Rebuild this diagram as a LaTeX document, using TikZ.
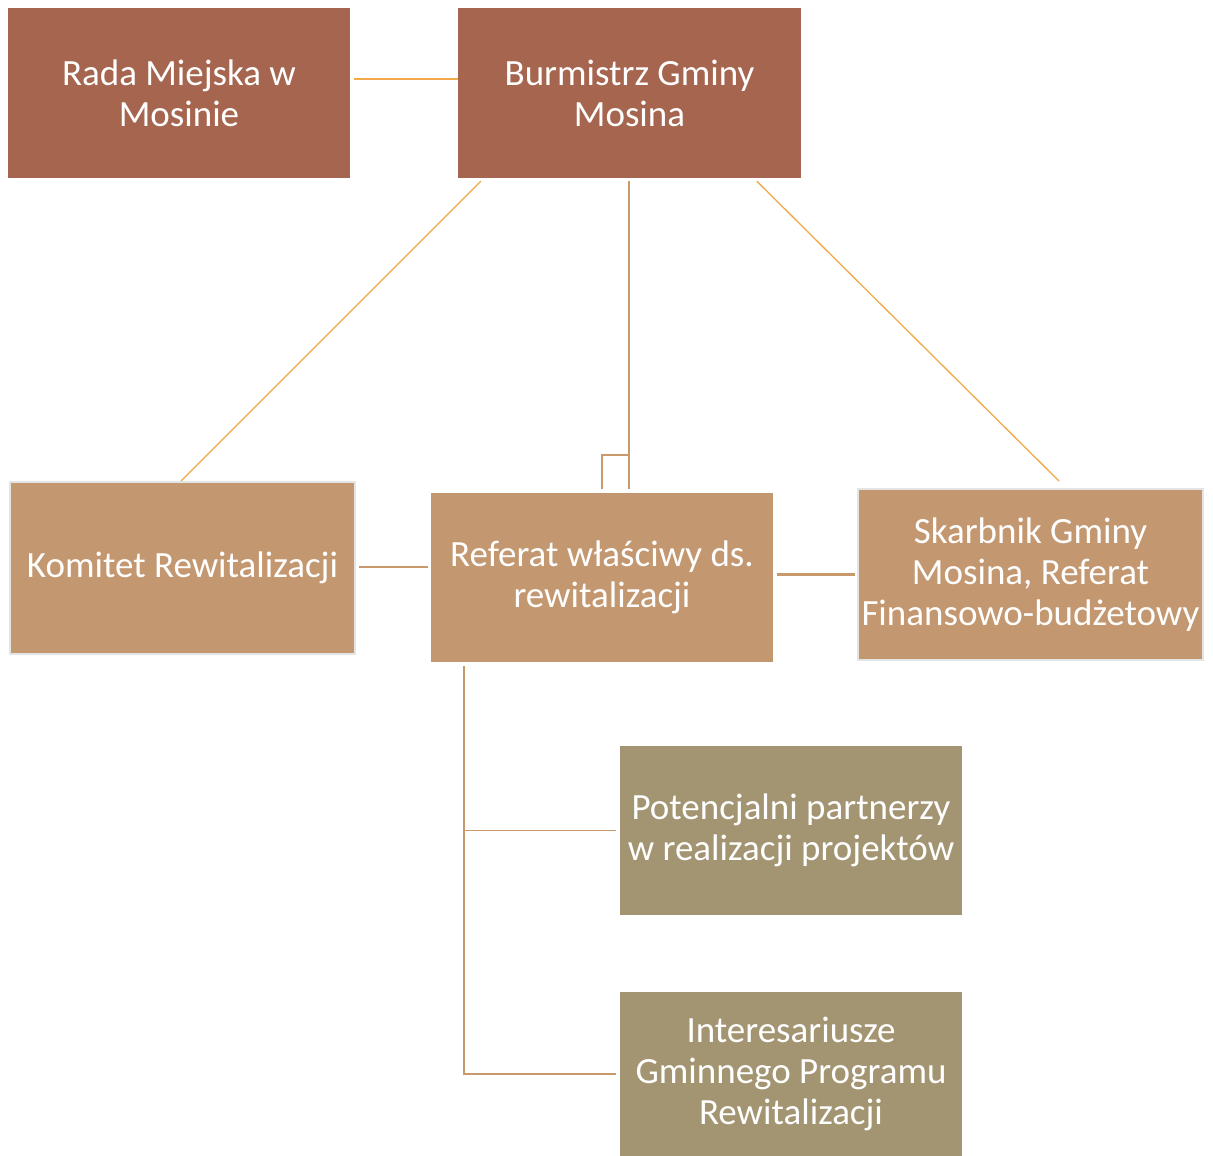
\documentclass[tikz,border=0pt]{standalone}
\usepackage{fontspec}
\setmainfont{Carlito}
\usetikzlibrary{calc}
\definecolor{cRada}{HTML}{A5654E}
\definecolor{cTan}{HTML}{C39770}
\definecolor{cOlive}{HTML}{A39472}
\definecolor{cOr}{HTML}{F0A848}
\definecolor{cLine}{HTML}{C8996B}
\definecolor{cEdge}{HTML}{E4E4E4}
\tikzset{
  box/.style={rectangle, inner sep=0pt, text=white, align=center,
    font=\fontsize{37}{41}\selectfont},
  thinor/.style={draw=cOr, line width=1.3pt},
  tanln/.style={draw=cLine, line width=2.4pt},
  tanthin/.style={draw=cLine, line width=1.6pt},
}
\begin{document}
\begin{tikzpicture}[x=1pt,y=-1pt]
\useasboundingbox (0,0) rectangle (1213,1156);
\clip (0,0) rectangle (1213,1156);
\node[box, fill=cRada, minimum width=342pt, minimum height=170pt] (rada) at (179,93) {Rada Miejska w\\Mosinie};
\node[box, fill=cRada, minimum width=343pt, minimum height=170pt] (burm) at (629.5,93) {Burmistrz Gminy\\Mosina};
\node[box, fill=cTan, draw=cEdge, line width=2pt, minimum width=345pt, minimum height=172pt] (kom) at (182.5,568) {Komitet Rewitalizacji};
\node[box, fill=cTan, minimum width=342pt, minimum height=169pt] (ref) at (602,577.5) {Referat właściwy ds.\\rewitalizacji};
\node[box, fill=cTan, draw=cEdge, line width=2pt, minimum width=345pt, minimum height=171pt] (skarb) at (1030.5,574.5) {Skarbnik Gminy\\Mosina, Referat\\Finansowo-budżetowy};
\node[box, fill=cOlive, minimum width=342pt, minimum height=169pt] (pot) at (791,830.5) {Potencjalni partnerzy\\w realizacji projektów};
\node[box, fill=cOlive, minimum width=342pt, minimum height=164pt] (int) at (791,1074) {Interesariusze\\Gminnego Programu\\Rewitalizacji};
% connectors
\draw[thinor] ($(rada.east)+(4,-14)$) -- ($(burm.west)+(0,-14)$);
\draw[thinor] ($(burm.south west)+(23,3)$) -- ($(kom.north)+(-1.5,0)$);
\draw[thinor] ($(burm.south west)+(299,3)$) -- ($(skarb.north)+(28.5,-7)$);
\coordinate (vtop) at ($(burm.south)+(-0.5,3)$);
\coordinate (vbot) at ($(ref.north)+(27,-4)$);
\draw[tanln] (vtop) -- (vbot);
\coordinate (bk) at ($(vbot)+(0,-34)$);
\draw[tanln] (bk) -- ($(bk)+(-27,0)$) -- ($(ref.north)+(0,-4)$);
\draw[tanln] ($(kom.east)+(3,-1)$) -- ($(kom.east -| ref.west)+(-3,-1)$);
\draw[tanln] ($(skarb.west)+(-2,0)$) -- ($(skarb.west -| ref.east)+(4,0)$);
\coordinate (rd) at ($(ref.south west)+(33,4)$);
\draw[tanthin] (rd) -- (rd |- int.west) -- ($(int.west)+(-4,0)$);
\draw[tanthin] (rd |- pot.west) -- ($(pot.west)+(-4,0)$);
\end{tikzpicture}
\end{document}
